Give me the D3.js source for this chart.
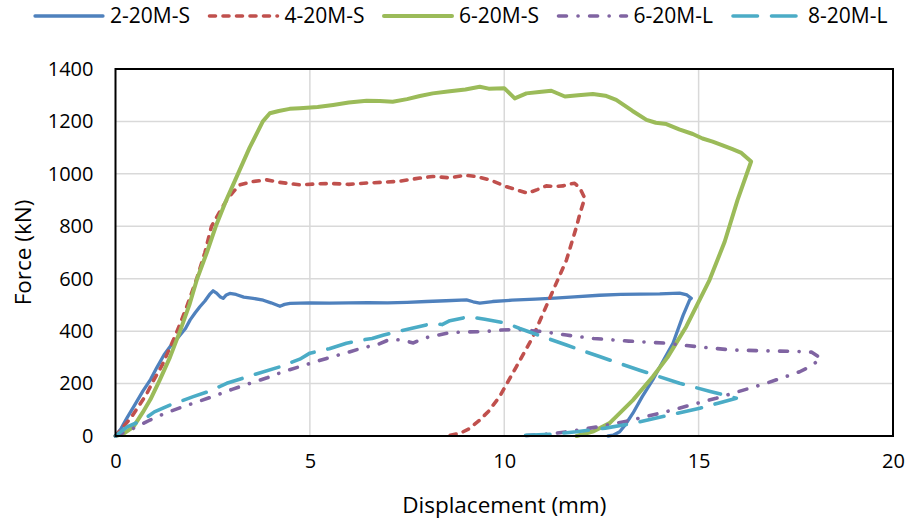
<!DOCTYPE html>
<html>
<head>
<meta charset="utf-8">
<script src="https://d3js.org/d3.v7.min.js"></script>
<style>
  body { margin: 0; background: #fff; }
  text { font-family: "Open Sans", "Noto Sans", sans-serif; fill: #000; }
</style>
</head>
<body>
<div id="chart"></div>
<script>
// series names and styles
var seriesNames = ["2-20M-S", "4-20M-S", "6-20M-S", "6-20M-L", "8-20M-L"];
var seriesColors = ["#4F81BD", "#C0504D", "#9BBB59", "#8064A2", "#4BACC6"];

// tick labels
var xTicks = [0, 5, 10, 15, 20];
var yTicks = [0, 200, 400, 600, 800, 1000, 1200, 1400];

// 2-20M-S : displacement (mm), force (kN)
var disp1 = [0,0.15,0.3,0.5,0.7,0.9,1.06,1.25,1.45,1.6,1.8,1.92,2.05,2.17,2.3,2.42,2.51,2.6,2.7,2.77,2.85,2.94,3.1,3.3,3.54,3.8,4.0,4.23,4.35,4.49,5.0,5.5,6.0,6.5,7.0,7.5,8.0,8.5,9.03,9.2,9.37,9.7,10.2,10.8,11.3,11.8,12.45,13.0,13.5,14.0,14.51,14.7,14.81,14.77,14.6,14.34,14.1,13.82,13.55,13.31,13.1,12.97,12.8,12.67];
var force1 = [0,30,70,120,170,215,260,310,350,374,410,443,470,493,515,540,554,545,530,525,538,544,540,530,525,518,508,495,502,506,508,507,508,509,508,510,513,516,519,512,507,513,518,522,526,531,537,540,541,542,545,538,525,519,460,354,290,214,150,87,40,16,3,0];

// 4-20M-S
var disp2 = [0,0.2,0.4,0.6,0.8,0.97,1.2,1.53,1.8,2.09,2.3,2.47,2.7,2.86,3.05,3.2,3.5,3.89,4.2,4.74,5.2,5.6,6.0,6.46,6.9,7.31,7.83,8.16,8.6,9.0,9.28,9.63,10.06,10.3,10.6,10.85,11.08,11.3,11.51,11.7,11.81,11.95,12.07,11.95,11.86,11.6,11.3,11.0,10.74,10.31,9.88,9.6,9.37,9.1,8.86,8.51];
var force2 = [0,35,70,115,160,210,270,380,480,600,700,800,860,900,935,958,970,977,968,958,962,963,960,965,968,972,984,990,985,995,990,977,951,940,926,940,954,952,954,962,964,945,907,850,799,671,570,468,379,264,150,95,61,28,10,0];

// 6-20M-S
var disp3 = [0,0.2,0.46,0.7,0.9,1.14,1.4,1.66,1.9,2.1,2.35,2.58,2.85,3.15,3.45,3.79,3.97,4.2,4.48,4.74,5.2,5.6,6.0,6.46,6.8,7.13,7.5,7.83,8.16,8.6,9.0,9.37,9.6,10.0,10.27,10.57,10.9,11.21,11.56,11.9,12.28,12.6,12.88,13.3,13.66,13.9,14.17,14.5,14.85,15.1,15.36,15.6,15.87,16.1,16.35,16.0,15.67,15.28,14.68,14.2,13.82,13.31,12.71,12.3,11.86];
var force3 = [0,8,35,90,140,214,300,400,500,600,700,800,900,1000,1100,1200,1231,1240,1248,1250,1255,1263,1272,1279,1278,1275,1285,1297,1307,1315,1322,1332,1325,1327,1288,1307,1312,1317,1295,1300,1305,1298,1282,1240,1206,1195,1190,1170,1152,1135,1123,1110,1094,1080,1047,900,741,595,417,300,226,137,49,18,0];

// 6-20M-L
var disp4 = [0,0.4,0.89,1.3,1.74,2.2,2.6,3.0,3.46,3.9,4.31,4.9,5.43,6.0,6.4,6.71,7.0,7.14,7.4,7.66,7.9,8.2,8.6,9.0,9.46,9.9,10.31,11.0,11.6,12.3,13.2,14.17,15.0,15.88,16.7,17.6,17.9,18.15,17.9,17.6,16.74,15.45,14.17,13.2,12.45,11.7,11.17,10.4];
var force4 = [0,25,61,88,112,135,156,178,201,222,245,272,296,320,338,347,365,369,365,355,372,382,394,397,398,404,407,398,385,372,362,354,340,328,325,322,320,296,268,245,201,144,93,58,36,18,8,0];

// 8-20M-L
var disp5 = [0,0.3,0.71,1.0,1.4,2.0,2.4,2.86,3.54,4.23,4.74,5.0,5.5,5.94,6.3,6.6,6.9,7.23,7.6,8.17,8.4,8.6,9.03,9.11,9.5,10.06,10.4,10.74,11.6,12.45,13.5,14.51,15.3,15.97,15.5,15.03,14.2,13.31,12.6,11.86,11.2,10.74,10.31];
var force5 = [0,35,61,92,118,150,170,201,233,264,293,316,333,354,365,372,385,398,410,430,425,440,453,455,445,430,410,392,347,303,250,201,170,144,125,106,78,48,30,16,7,4,0];

var dispAll = [disp1, disp2, disp3, disp4, disp5];
var forceAll = [force1, force2, force3, force4, force5];

// line styles per series
var styles = [
  {w: 3.3, dash: null, cap: "round"},
  {w: 3.6, dash: "6,7.5", cap: "round"},
  {w: 4, dash: null, cap: "round"},
  {w: 3.6, dash: "8,11.5,0.1,11.5", cap: "round"},
  {w: 3.6, dash: "24.5,14", cap: "round"}
];

var W = 907, H = 520;
var svg = d3.select("#chart").append("svg")
  .attr("width", W)
  .attr("height", H);

var x = d3.scaleLinear().domain([0, 20]).range([115.5, 893]);
var y = d3.scaleLinear().domain([0, 1400]).range([436, 69]);

// gridlines
svg.append("g").selectAll("line.h")
  .data(yTicks.slice(1))
  .enter().append("line")
    .attr("x1", x(0)).attr("x2", x(20))
    .attr("y1", function(d) { return y(d); })
    .attr("y2", function(d) { return y(d); })
    .attr("stroke", "#D9D9D9").attr("stroke-width", 1.5);
svg.append("g").selectAll("line.v")
  .data(xTicks.slice(1))
  .enter().append("line")
    .attr("y1", y(0)).attr("y2", y(1400))
    .attr("x1", function(d) { return x(d); })
    .attr("x2", function(d) { return x(d); })
    .attr("stroke", "#D9D9D9").attr("stroke-width", 1.5);

// axes (labels only, frame drawn separately)
var yAxis = svg.append("g")
  .attr("transform", "translate(" + x(0) + ",0)")
  .call(d3.axisLeft(y).tickValues(yTicks).tickFormat(d3.format("d")).tickSize(0).tickPadding(22));
var xAxis = svg.append("g")
  .attr("transform", "translate(0," + y(0) + ")")
  .call(d3.axisBottom(x).tickValues(xTicks).tickFormat(d3.format("d")).tickSize(0).tickPadding(18));
[xAxis, yAxis].forEach(function(a) {
  a.select(".domain").remove();
  a.selectAll("text").style("font-size", "20px").attr("fill", "#000");
});

// series lines
var line = d3.line()
  .x(function(d) { return x(d[0]); })
  .y(function(d) { return y(d[1]); });

dispAll.forEach(function(dx, i) {
  var pts = dx.map(function(v, k) { return [v, forceAll[i][k]]; });
  svg.append("path")
    .datum(pts)
    .attr("d", line)
    .attr("fill", "none")
    .attr("stroke", seriesColors[i])
    .attr("stroke-width", styles[i].w)
    .attr("stroke-linejoin", "round")
    .attr("stroke-linecap", styles[i].cap)
    .attr("stroke-dasharray", styles[i].dash);
});

// plot frame
svg.append("rect")
  .attr("x", x(0)).attr("y", y(1400))
  .attr("width", x(20) - x(0)).attr("height", y(0) - y(1400))
  .attr("fill", "none").attr("stroke", "#000").attr("stroke-width", 2);

// axis titles
svg.append("text")
  .attr("x", (x(0) + x(20)) / 2).attr("y", 513)
  .attr("text-anchor", "middle")
  .style("font-size", "22.5px")
  .text("Displacement (mm)");
svg.append("text")
  .attr("transform", "translate(31," + (y(0) + y(1400)) / 2 + ") rotate(-90)")
  .attr("text-anchor", "middle")
  .style("font-size", "22.5px")
  .text("Force (kN)");

// legend
var legend = svg.append("g").selectAll("g")
  .data(seriesNames)
  .enter().append("g")
    .attr("transform", function(d, i) { return "translate(" + (35 + i * 174.5) + ",16)"; });
legend.append("line")
  .attr("x1", 0).attr("x2", 68)
  .attr("stroke", function(d, i) { return seriesColors[i]; })
  .attr("stroke-width", function(d, i) { return styles[i].w; })
  .attr("stroke-linecap", function(d, i) { return styles[i].cap; })
  .attr("stroke-dasharray", function(d, i) { return styles[i].dash; });
legend.append("text")
  .attr("x", 75).attr("dy", "0.35em")
  .style("font-size", "21px")
  .text(function(d) { return d; });
</script>
</body>
</html>
